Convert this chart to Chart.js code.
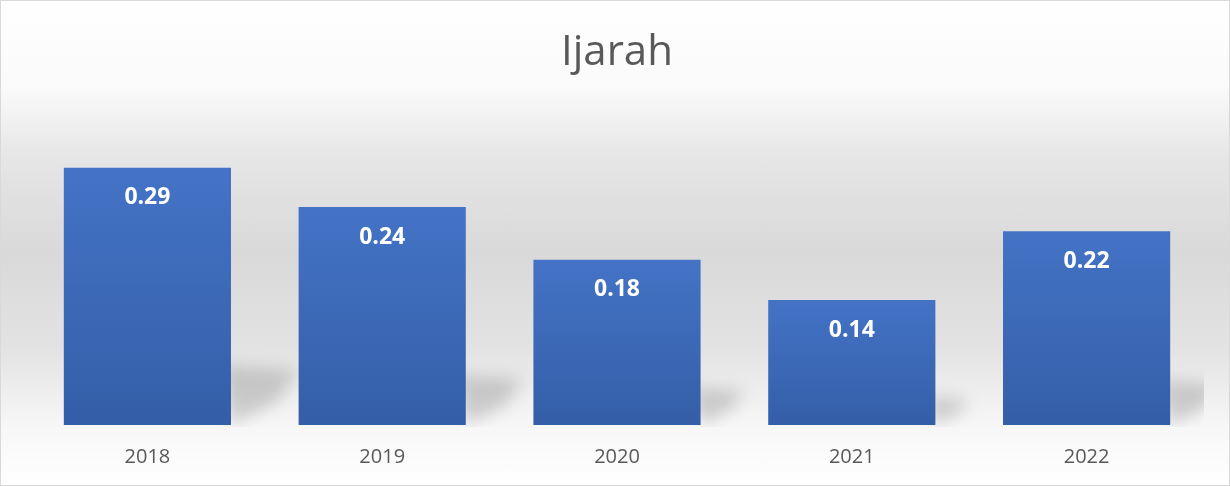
<!DOCTYPE html>
<html>
<head>
<meta charset="utf-8">
<script src="https://cdn.jsdelivr.net/npm/chart.js@4"></script>
<style>
  html, body { margin: 0; padding: 0; }
  #wrap {
    width: 1228px; height: 484px;
    border: 1px solid #d9d9d9;
    background: linear-gradient(to bottom, #ffffff 0%, #fafafa 18%, #e6e6e6 32%, #d9d9d9 52%, #e3e3e3 72%, #f7f7f7 88%, #ffffff 100%);
    position: relative;
  }
</style>
</head>
<body>
<div id="wrap"><canvas id="chart" width="1228" height="484"></canvas></div>
<script>
// DATA
const years = ['2018', '2019', '2020', '2021', '2022'];
const ijarah = [0.288, 0.244, 0.185, 0.14, 0.217];
const chartTitle = 'Ijarah';

// bar shadow, drawn behind the bars
const barShadow = {
  id: 'barShadow',
  beforeDatasetsDraw(chart) {
    const ctx = chart.ctx;
    const area = chart.chartArea;
    const meta = chart.getDatasetMeta(0);
    ctx.save();
    ctx.beginPath();
    ctx.rect(area.left, area.top, area.right - area.left, area.bottom - area.top + 2);
    ctx.clip();
    ctx.filter = 'blur(8px)';
    ctx.fillStyle = 'rgba(0, 0, 0, 0.16)';
    meta.data.forEach((bar) => {
      const h = bar.base - bar.y;
      const r = bar.x + bar.width / 2;
      const b = bar.base;
      const sh = h * 0.23;
      const sw = h * 0.26;
      ctx.beginPath();
      ctx.moveTo(r - 10, b - sh);
      ctx.lineTo(r + sw, b - sh + 4);
      ctx.lineTo(r + sw * 0.7, b - sh * 0.4);
      ctx.lineTo(r, b);
      ctx.closePath();
      ctx.fill();
    });
    ctx.restore();
  }
};

// values inside the bars
const barLabels = {
  id: 'barLabels',
  afterDatasetsDraw(chart) {
    const ctx = chart.ctx;
    const meta = chart.getDatasetMeta(0);
    ctx.save();
    ctx.fillStyle = '#ffffff';
    ctx.font = 'bold 23px "Open Sans"';
    ctx.textAlign = 'center';
    ctx.textBaseline = 'middle';
    meta.data.forEach((bar, i) => {
      ctx.fillText(ijarah[i].toFixed(2), bar.x, bar.y + 30);
    });
    ctx.restore();
  }
};

const ctx = document.getElementById('chart').getContext('2d');

new Chart(ctx, {
  type: 'bar',
  data: {
    labels: years,
    datasets: [{
      label: chartTitle,
      data: ijarah,
      backgroundColor: function(context) {
        const chart = context.chart;
        const area = chart.chartArea;
        if (!area || context.dataIndex === undefined) return '#4472c4';
        const y = chart.scales.y;
        const top = y.getPixelForValue(ijarah[context.dataIndex]);
        const bottom = y.getPixelForValue(0);
        const g = chart.ctx.createLinearGradient(0, top, 0, bottom);
        g.addColorStop(0, '#4473c6');
        g.addColorStop(1, '#345ea7');
        return g;
      },
      borderWidth: 0,
      categoryPercentage: 1,
      barPercentage: 0.712
    }]
  },
  options: {
    responsive: false,
    animation: false,
    layout: {
      padding: { left: 29, right: 25, top: 0, bottom: -4 }
    },
    scales: {
      x: {
        grid: { display: false, drawTicks: false },
        border: { display: false },
        ticks: {
          color: '#595959',
          font: { family: 'Open Sans', size: 20 },
          padding: 20
        }
      },
      y: {
        display: false,
        min: 0,
        max: 0.35
      }
    },
    plugins: {
      legend: { display: false },
      tooltip: { enabled: false },
      title: {
        display: true,
        text: chartTitle,
        color: '#595959',
        font: { family: 'Open Sans', size: 42, weight: 'normal' },
        padding: { top: 27, bottom: 34 }
      }
    }
  },
  plugins: [barShadow, barLabels]
});
</script>
</body>
</html>
